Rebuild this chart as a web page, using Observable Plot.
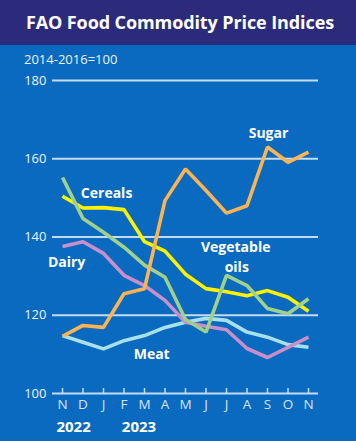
<!DOCTYPE html>
<html>
<head>
<meta charset="utf-8">
<script src="https://cdn.jsdelivr.net/npm/d3@7"></script>
<script src="https://cdn.jsdelivr.net/npm/@observablehq/plot@0.6"></script>
<style>
  html, body { margin: 0; padding: 0; background: #0a6abf; }
  #wrap { width: 356px; height: 441px; background: #0a6abf; position: relative; overflow: hidden; font-family: "Open Sans", sans-serif; }
  #title { height: 45px; background: #2c2a7a; color: #fff; font-weight: bold; font-size: 18px; text-align: center; line-height: 45px; letter-spacing: -0.1px; padding-left: 4px; }
  #sub { position: absolute; top: 50px; left: 24px; color: #eef4fb; font-size: 13px; }
  #chart { position: absolute; top: 65px; left: 0; }
</style>
</head>
<body>
<div id="wrap">
  <div id="title">FAO Food Commodity Price Indices</div>
  <div id="sub">2014-2016=100</div>
  <div id="chart"></div>
</div>
<script>
const months = ["N","D","J","F","M","A","M","J","J","A","S","O","N"];
const yTicks = [100, 120, 140, 160, 180];
const cereals = [150.4,147.4,147.5,147.0,138.8,136.4,130.5,126.8,126.0,125.0,126.3,124.6,121.0];
const vegOils = [155.2,144.7,141.2,137.4,132.8,129.7,118.9,115.7,130.2,127.6,121.7,120.4,124.2];
const dairy   = [137.6,138.8,135.8,130.2,127.6,123.8,118.2,117.2,116.3,111.5,109.2,111.8,114.4];
const meat    = [114.8,113.1,111.4,113.5,114.8,116.9,118.2,119.2,118.7,115.7,114.4,112.5,111.8];
const sugar   = [114.6,117.4,116.9,125.5,126.8,149.3,157.4,151.9,146.1,148.0,163.0,159.1,161.7];
const years = ["2022", "2023"];
const yearPos = [0.54, 3.73];
const seriesNames = ["Meat", "Dairy", "Cereals", "Vegetable oils", "Sugar"];
const seriesColors = ["#a9e1ea", "#c98fca", "#fff200", "#9fd08c", "#fbb454"];
const seriesValues = [meat, dairy, cereals, vegOils, sugar];
const labelTexts = ["Meat", "Dairy", "Cereals", "Vegetable", "oils", "Sugar"];
const labelPos = [[4.35, 110.0], [0.2, 133.5], [2.15, 151.1], [8.45, 137.2], [8.5, 132.3], [10.05, 166.5]];

const rows = [];
seriesValues.forEach((vals, s) => vals.forEach((v, i) => rows.push({series: seriesNames[s], i, v})));
const labels = labelTexts.map((name, s) => ({name, i: labelPos[s][0], v: labelPos[s][1]}));
const yearRows = years.map((label, k) => ({label, i: yearPos[k]}));
const idx = d3.range(months.length);

const chart = Plot.plot({
  width: 356,
  height: 376,
  marginLeft: 52,
  marginRight: 38,
  marginTop: 15,
  marginBottom: 48,
  style: {background: "transparent", color: "#eef4fb", fontFamily: "'Open Sans', sans-serif", fontSize: "13px", overflow: "visible"},
  x: {type: "linear", domain: [-0.488, 12.488]},
  y: {domain: [100, 180]},
  color: {domain: seriesNames, range: seriesColors},
  marks: [
    Plot.ruleY(yTicks, {stroke: "#c3dcf2", strokeWidth: 1.8}),
    Plot.ruleX(idx, {x: d => d, y1: 100, y2: 100, insetTop: -5, stroke: "#c3dcf2", strokeWidth: 1.5}),
    Plot.axisY({ticks: yTicks, tickSize: 0, tickPadding: 6, label: null, fontSize: 13}),
    Plot.axisX({ticks: idx, tickFormat: i => months[i], tickSize: 0, tickPadding: 6, label: null, fontSize: 13.5, fill: "#d6e6f6"}),
    Plot.text(yearRows, {x: "i", y: () => 100, text: "label", dy: 34, fill: "#fff", fontWeight: "bold", fontSize: 15}),
    Plot.line(rows, {x: "i", y: "v", z: "series", stroke: "series", strokeWidth: 3.6, strokeLinejoin: "miter", strokeLinecap: "butt"}),
    Plot.text(labels, {x: "i", y: "v", text: "name", fill: "#fff", fontWeight: "bold", fontSize: 14})
  ]
});
document.getElementById("chart").appendChild(chart);
</script>
</body>
</html>
